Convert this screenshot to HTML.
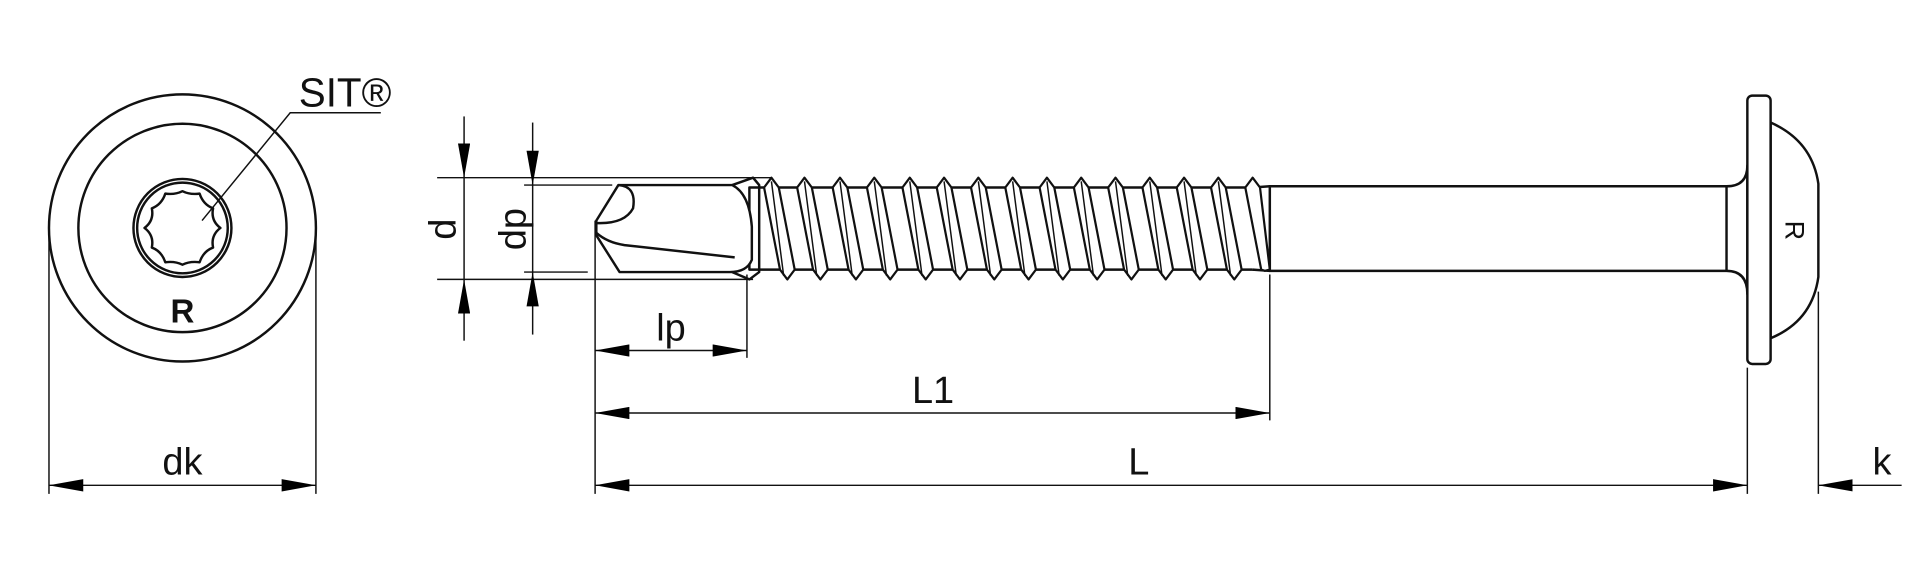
<!DOCTYPE html>
<html><head><meta charset="utf-8"><style>
html,body{margin:0;padding:0;background:#fff;}
svg{display:block;}
text{font-family:"Liberation Sans",sans-serif;fill:#111;}
</style></head><body>
<svg width="1920" height="576" viewBox="0 0 1568 470" preserveAspectRatio="none" xmlns="http://www.w3.org/2000/svg">
<defs>
<marker id="a" viewBox="0 0 28 10" refX="28" refY="5" markerWidth="28" markerHeight="10" markerUnits="userSpaceOnUse" orient="auto"><path d="M0,0 L28,5 L0,10 Z" fill="#000"/></marker>
<marker id="b" viewBox="0 0 28 10" refX="0" refY="5" markerWidth="28" markerHeight="10" markerUnits="userSpaceOnUse" orient="auto"><path d="M28,0 L0,5 L28,10 Z" fill="#000"/></marker>
</defs>
<g fill="none" stroke="#111" stroke-width="2" stroke-linejoin="round">
<circle cx="149" cy="186" r="109"/>
<circle cx="149" cy="186" r="85"/>
<circle cx="149" cy="186" r="40"/>
<circle cx="149" cy="186" r="37"/>
<path d="M180,186 Q172,180 174,170 Q166,167 163,158 Q155,159 149,156 Q143,159 135,158 Q132,167 124,170 Q126,180 118,186 Q126,192 124,202 Q132,205 135,214 Q143,213 149,216 Q155,213 163,214 Q166,205 174,202 Q172,192 180,186 Z"/>
</g>
<g stroke="#111" stroke-width="1.2" fill="none">
<polyline points="311,92 237,92 165,180"/>
<line x1="40" y1="190" x2="40" y2="403"/><line x1="258" y1="190" x2="258" y2="403"/>
<line x1="40" y1="396" x2="258" y2="396" marker-start="url(#b)" marker-end="url(#a)"/>
<line x1="357" y1="145" x2="630" y2="145"/><line x1="357" y1="228" x2="615" y2="228"/>
<line x1="379" y1="95" x2="379" y2="145" marker-end="url(#a)"/>
<line x1="379" y1="278" x2="379" y2="228" marker-end="url(#a)"/>
<line x1="379" y1="145" x2="379" y2="228"/>
<line x1="428" y1="151" x2="500" y2="151"/><line x1="428" y1="222" x2="480" y2="222"/>
<line x1="435" y1="100" x2="435" y2="151" marker-end="url(#a)"/>
<line x1="435" y1="273" x2="435" y2="222" marker-end="url(#a)"/>
<line x1="435" y1="151" x2="435" y2="222"/>
<line x1="486" y1="180" x2="486" y2="403"/>
<line x1="610" y1="224" x2="610" y2="292"/>
<line x1="486" y1="286" x2="610" y2="286" marker-start="url(#b)" marker-end="url(#a)"/>
<line x1="1037" y1="224" x2="1037" y2="343"/>
<line x1="486" y1="337" x2="1037" y2="337" marker-start="url(#b)" marker-end="url(#a)"/>
<line x1="1427" y1="300" x2="1427" y2="403"/>
<line x1="486" y1="396" x2="1427" y2="396" marker-start="url(#b)" marker-end="url(#a)"/>
<line x1="1485" y1="238" x2="1485" y2="403"/>
<line x1="1485" y1="396" x2="1553" y2="396" marker-start="url(#b)"/>
</g>
<g fill="#fff" stroke="#111" stroke-width="2" stroke-linejoin="round">
<path d="M1037,152 L1410,152 Q1427,152 1427,135 L1427,240 Q1427,221 1410,221 L1037,221 Z"/>
<line x1="1410" y1="152" x2="1410" y2="221"/>
<path d="M1446,100 Q1480,115 1485,150 L1485,226 Q1480,262 1446,276 Z"/>
<rect x="1427" y="78" width="19" height="219" rx="4"/>
<rect x="612" y="153" width="425" height="67" fill="#fff"/>
<path d="M1023,153 L1037,152 L1037,221 L1023,220"/>
<path d="M505,151 L598,151 Q612,158 614,185 L614,212 Q610,222 596,222 L506,222 L487,192 L487,180 L505,151 Z"/>
<path d="M505,151 Q520,152 517,170 Q510,183 487,182" fill="none"/>
<path d="M487,190 Q496,198 510,200 L600,210" fill="none"/>
<path d="M598,151 L615,145 L620,151 L620,222 L612,228 L598,222" fill="none"/>
</g>
<g fill="#fff" stroke="#111" stroke-width="1.8" stroke-linejoin="round">
<path d="M624,153 L630,145 L636,153 L649,220 L643,228 L637,220 Z"/>
<path d="M651,153 L657,145 L663,153 L676,220 L670,228 L664,220 Z"/>
<path d="M680,153 L686,145 L692,153 L705,220 L699,228 L693,220 Z"/>
<path d="M708,153 L714,145 L720,153 L733,220 L727,228 L721,220 Z"/>
<path d="M737,153 L743,145 L749,153 L762,220 L756,228 L750,220 Z"/>
<path d="M765,153 L771,145 L777,153 L790,220 L784,228 L778,220 Z"/>
<path d="M793,153 L799,145 L805,153 L818,220 L812,228 L806,220 Z"/>
<path d="M821,153 L827,145 L833,153 L846,220 L840,228 L834,220 Z"/>
<path d="M849,153 L855,145 L861,153 L874,220 L868,228 L862,220 Z"/>
<path d="M877,153 L883,145 L889,153 L902,220 L896,228 L890,220 Z"/>
<path d="M905,153 L911,145 L917,153 L930,220 L924,228 L918,220 Z"/>
<path d="M933,153 L939,145 L945,153 L958,220 L952,228 L946,220 Z"/>
<path d="M961,153 L967,145 L973,153 L986,220 L980,228 L974,220 Z"/>
<path d="M989,153 L995,145 L1001,153 L1014,220 L1008,228 L1002,220 Z"/>
<path d="M1017,153 L1023,145 L1029,153 L1037,220 L1033,221 L1030,220 Z"/>
</g>
<g fill="none" stroke="#111" stroke-width="1.2">
<path d="M630,148 L640,225 M657,148 L667,225 M686,148 L696,225 M714,148 L724,225 M743,148 L753,225 M771,148 L781,225 M799,148 L809,225 M827,148 L837,225 M855,148 L865,225 M883,148 L893,225 M911,148 L921,225 M939,148 L949,225 M967,148 L977,225 M995,148 L1005,225"/>
</g>
<text x="244" y="87" font-size="33">SIT®</text>
<text x="149" y="263" font-size="27" font-weight="bold" text-anchor="middle">R</text>
<text x="149" y="387" font-size="31" text-anchor="middle">dk</text>
<text x="0" y="0" font-size="31" text-anchor="middle" transform="translate(372,187) rotate(-90)">d</text>
<text x="0" y="0" font-size="31" text-anchor="middle" transform="translate(429,187) rotate(-90)">dp</text>
<text x="548" y="278" font-size="31" text-anchor="middle">lp</text>
<text x="762" y="329" font-size="31" text-anchor="middle">L1</text>
<text x="930" y="387" font-size="31" text-anchor="middle">L</text>
<text x="1537" y="387" font-size="31" text-anchor="middle">k</text>
<text x="0" y="0" font-size="22" text-anchor="middle" transform="translate(1458,188) rotate(90)">R</text>
</svg>
</body></html>
